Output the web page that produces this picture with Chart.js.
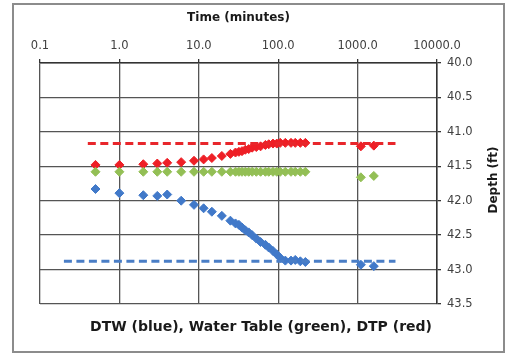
<!DOCTYPE html>
<html>
<head>
<meta charset="utf-8">
<script src="https://cdn.jsdelivr.net/npm/chart.js@4.4.1/dist/chart.umd.min.js"></script>
<style>
html,body{margin:0;padding:0;background:#fff;}
#frame{position:absolute;left:12px;top:3px;width:489px;height:346px;border:2px solid #8c8c8c;}
#c{position:absolute;left:0;top:0;}
</style>
</head>
<body>
<div id="frame"></div>
<canvas id="c" width="509" height="353"></canvas>
<script>
// Time (minutes)
const times = [0.5,1,2,3,4,6,8.7,11.5,14.6,19.5,25,29,32,35,38.5,42.5,47,53,60,69,76,86,96,106,123,145,164,190,220,1100,1600];
// Depth to water (blue)
const dtw = [41.83,41.89,41.92,41.93,41.91,42.00,42.06,42.11,42.16,42.22,42.29,42.33,42.35,42.39,42.43,42.46,42.50,42.55,42.60,42.64,42.68,42.73,42.78,42.83,42.87,42.87,42.86,42.88,42.89,42.93,42.95];
// Water table (green)
const wt = [41.58,41.58,41.58,41.58,41.58,41.58,41.58,41.58,41.58,41.58,41.58,41.58,41.58,41.58,41.58,41.58,41.58,41.58,41.58,41.58,41.58,41.58,41.58,41.58,41.58,41.58,41.58,41.58,41.58,41.66,41.64];
// Depth to product (red)
const dtp = [41.48,41.48,41.47,41.46,41.45,41.44,41.42,41.40,41.38,41.35,41.32,41.30,41.29,41.28,41.26,41.25,41.23,41.22,41.21,41.19,41.18,41.17,41.17,41.16,41.16,41.16,41.16,41.16,41.16,41.21,41.20];
// Reference dashed lines
const dtpRefX = [0.4, 3000];
const dtpRefY = [41.17, 41.17];
const dtwRefX = [0.2, 3000];
const dtwRefY = [42.88, 42.88];
// Tick labels
const xTicks = [0.1,1,10,100,1000,10000];
const yMin = 40.0, yMax = 43.5, yStep = 0.5;

const pts = (xs, ys) => xs.map((x,i)=>({x:x, y:ys[i]}));

const FONT = "'DejaVu Sans', Verdana, sans-serif";

const titles = {
  id:'titles',
  afterDraw(chart){
    const ctx = chart.ctx;
    ctx.save();
    ctx.fillStyle = '#1a1a1a';
    ctx.font = "bold 14px " + FONT;
    ctx.textAlign = 'center';
    ctx.textBaseline = 'middle';
    ctx.fillText('DTW (blue), Water Table (green), DTP (red)', 261, 327);
    ctx.font = "bold 12px " + FONT;
    ctx.translate(494, 180);
    ctx.rotate(-Math.PI/2);
    ctx.fillText('Depth (ft)', 0, 0);
    ctx.restore();
  }
};

new Chart(document.getElementById('c'), {
  data: {
    datasets: [
      {type:'line', data: pts(dtpRefX, dtpRefY), borderColor:'#e8262b', borderWidth:3, borderDash:[8,4.5], pointRadius:0, fill:false},
      {type:'line', data: pts(dtwRefX, dtwRefY), borderColor:'#4a7ec6', borderWidth:3, borderDash:[8,4.5], pointRadius:0, fill:false},
      {type:'scatter', data: pts(times, wt), pointStyle:'rectRot', radius:4.5, backgroundColor:'#93bf55', borderColor:'#93bf55', borderWidth:1},
      {type:'scatter', data: pts(times, dtp), pointStyle:'rectRot', radius:4.5, backgroundColor:'#ee1f26', borderColor:'#ee1f26', borderWidth:1},
      {type:'scatter', data: pts(times, dtw), pointStyle:'rectRot', radius:4.5, backgroundColor:'#4179c9', borderColor:'#4179c9', borderWidth:1}
    ]
  },
  options: {
    responsive:false,
    animation:false,
    devicePixelRatio:1,
    layout:{padding:{left:40, right:0, top:0, bottom:49}},
    plugins:{legend:{display:false}, tooltip:{enabled:false}, title:{display:false}},
    scales:{
      x:{
        type:'logarithmic', position:'top', min:0.1, max:10000,
        afterBuildTicks(s){ s.ticks = xTicks.map(v=>({value:v})); },
        afterFit(s){ s.height = 63; },
        ticks:{ callback:(v)=>Number(v).toFixed(1), color:'#404040', font:{family:FONT, size:11.5}, padding:6, maxRotation:0, autoSkip:false },
        grid:{ color:'#555', lineWidth:1.3, tickLength:4, tickColor:'#333' },
        border:{ display:true, color:'#333', width:1.5 },
        title:{ display:true, text:'Time (minutes)', color:'#1a1a1a', font:{family:FONT, size:12, weight:'bold'}, padding:{top:10.8, bottom:0} }
      },
      y:{
        type:'linear', position:'right', reverse:true, min:yMin, max:yMax,
        afterFit(s){ s.width = 72; },
        ticks:{ stepSize:yStep, callback:(v)=>Number(v).toFixed(1), color:'#404040', font:{family:FONT, size:11.5}, padding:6 },
        grid:{ color:'#555', lineWidth:1.3, tickLength:4, tickColor:'#333' },
        border:{ display:true, color:'#333', width:1.5 }
      }
    }
  },
  plugins:[titles]
});
</script>
</body>
</html>
